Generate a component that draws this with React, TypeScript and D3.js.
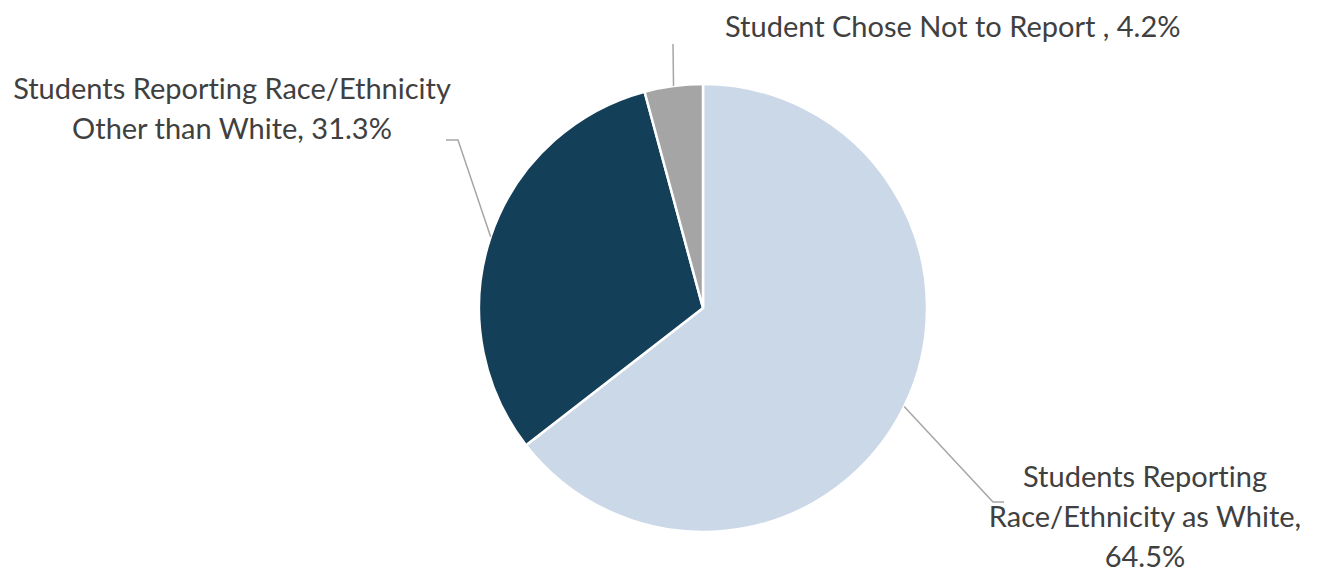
import * as d3 from "d3";

type Slice = { label: string[]; value: number };

const categories = [
  "Students Reporting Race/Ethnicity as White",
  "Students Reporting Race/Ethnicity Other than White",
  "Student Chose Not to Report",
];
const values = [64.5, 31.3, 4.2];
const labelLines = [
  ["Students Reporting", "Race/Ethnicity as White,", "64.5%"],
  ["Students Reporting Race/Ethnicity", "Other than White, 31.3%"],
  ["Student Chose Not to Report , 4.2%"],
];
const colors = ["#CBD8E7", "#143F58", "#A5A5A5"];

const width = 1319;
const height = 572;
const cx = 703;
const cy = 308;
const radius = 224;

// label layout: elbow/end of the leader line and text anchor, relative to page
const labelLayout = [
  { elbow: [993, 502], end: [1004, 502], tx: 1145, ty: 487, anchor: "middle" },
  { elbow: [458, 140], end: [446, 140], tx: 232, ty: 99, anchor: "middle" },
  { elbow: [673, 44], end: [673, 44], tx: 725, ty: 37, anchor: "start" },
];

const App = () => {
  const data: Slice[] = values.map((v, i) => ({ label: labelLines[i], value: v }));
  const pie = d3
    .pie<Slice>()
    .sort(null)
    .value((d) => d.value);
  const arcs = pie(data);
  const arc = d3.arc<d3.PieArcDatum<Slice>>().innerRadius(0).outerRadius(radius);

  return (
    <svg
      width={width}
      height={height}
      viewBox={`0 0 ${width} ${height}`}
      style={{ position: "absolute", left: 0, top: 0 }}
      role="img"
      aria-label={categories.join(", ")}
    >
      <rect width={width} height={height} fill="#fff" />
      <g transform={`translate(${cx}, ${cy})`}>
        {arcs.map((d, i) => (
          <path key={i} d={arc(d) ?? undefined} fill={colors[i]} stroke="#fff" strokeWidth={2.5} strokeLinejoin="round" />
        ))}
      </g>
      {arcs.map((d, i) => {
        const mid = (d.startAngle + d.endAngle) / 2;
        const sx = cx + radius * Math.sin(mid);
        const sy = cy - radius * Math.cos(mid);
        const L = labelLayout[i];
        return (
          <g key={i}>
            <polyline
              points={`${sx},${sy} ${L.elbow[0]},${L.elbow[1]} ${L.end[0]},${L.end[1]}`}
              fill="none"
              stroke="#A6A6A6"
              strokeWidth={1.5}
            />
            <text
              x={L.tx}
              y={L.ty}
              textAnchor={L.anchor as any}
              fontFamily="Lato, 'Open Sans', sans-serif"
              fontSize={29}
              fill="#404040"
              style={{ fontVariantLigatures: "none" }}
            >
              {d.data.label.map((line, j) => (
                <tspan key={j} x={L.tx} dy={j === 0 ? 0 : 40}>
                  {line}
                </tspan>
              ))}
            </text>
          </g>
        );
      })}
    </svg>
  );
};

export default App;
